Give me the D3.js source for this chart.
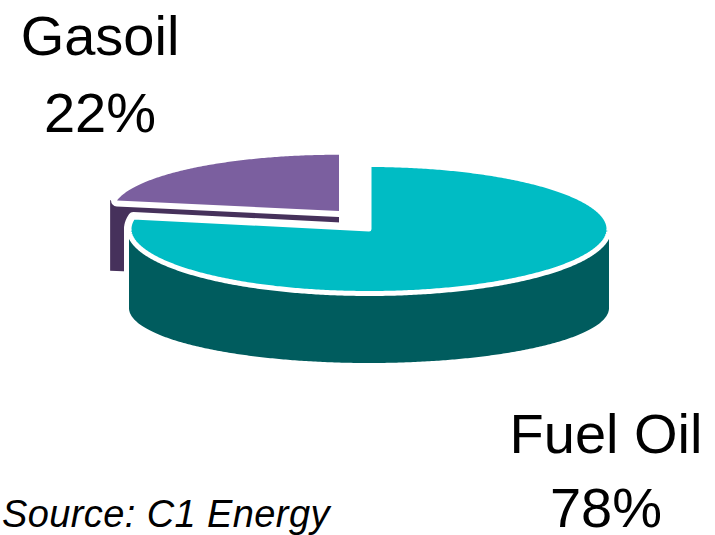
<!DOCTYPE html>
<html>
<head>
<meta charset="utf-8">
<script src="https://cdn.jsdelivr.net/npm/d3@7"></script>
<style>
  html, body { margin: 0; padding: 0; background: #fff; }
  svg { display: block; }
  text { font-family: "Liberation Sans", Arial, sans-serif; fill: #000; }
</style>
</head>
<body>
<svg id="chart" width="715" height="535"></svg>
<script>
// Product split
const products = ["Fuel Oil", "Gasoil"];
const shares = [78, 22];
const topColors = ["#00bcc4", "#7b5f9f"];
const sideColors = ["#005c5e", "#46315b"];
const sourceNote = "Source: C1 Energy";

const svg = d3.select("#chart");

// Tilted disc geometry: top ellipse (cx, cy, rx, ry) and a flatter bottom
// ellipse `depth` px lower with radius ryB – a slight perspective.
// The exploded slice sits further back and higher.
const disc = [
  { cx: 369, cy: 229, rx: 240, ry: 64.5, depth: 79, ryB: 55, inset: 0, halo: 10 },
  { cx: 339, cy: 211, rx: 233, ry: 58, depth: 69, ryB: 50, inset: 7, halo: 12 }
];
const labelPos = [
  { x: 606, y1: 453, y2: 527 },
  { x: 100, y1: 55, y2: 132 }
];

const pie = d3.pie().sort(null).value(d => d.value);
const arcs = pie(products.map((p, i) => ({ name: p, value: shares[i], i })));

// point on the top (bottom=false) or bottom ellipse at pie angle a
const proj = (g, a, r = 0, bottom = false) => {
  const ry = bottom ? g.ryB : g.ry;
  const cy = bottom ? g.cy + g.depth : g.cy;
  return [g.cx + (g.rx - r) * Math.sin(a), cy - (ry - r * ry / g.rx) * Math.cos(a)];
};
const line = d3.line();
const arcPts = (g, a0, a1, r = 0, bottom = false) => {
  const n = Math.max(2, Math.ceil((a1 - a0) / 0.01));
  return d3.range(n + 1).map(k => proj(g, a0 + (a1 - a0) * k / n, r, bottom));
};

function topPath(g, a0, a1, r) {
  return line([[g.cx, g.cy], ...arcPts(g, a0, a1, r)]) + "Z";
}
function sidePath(g, a0, a1) {
  const s = Math.max(a0, Math.PI / 2), e = Math.min(a1, 3 * Math.PI / 2);
  if (e <= s) return null;
  return line([...arcPts(g, s, e), ...arcPts(g, s, e, 0, true).reverse()]) + "Z";
}
function facePath(g, a) {
  return line([[g.cx, g.cy], proj(g, a), proj(g, a, 0, true), [g.cx, g.cy + g.depth]]) + "Z";
}

// Back slice first (Gasoil), then the front slice (Fuel Oil)
[1, 0].forEach(i => {
  const a = arcs[i];
  const g = disc[i];
  const grp = svg.append("g").attr("class", "slice");
  const faces = [];
  if (Math.sin(a.startAngle) < -1e-6) faces.push(facePath(g, a.startAngle));
  if (Math.sin(a.endAngle) > 1e-6) faces.push(facePath(g, a.endAngle));
  const side = sidePath(g, a.startAngle, a.endAngle);
  const top = topPath(g, a.startAngle, a.endAngle, g.inset);

  // radial cut faces, then a white halo separating the slice from what lies behind
  faces.forEach(p => grp.append("path").attr("d", p).attr("fill", sideColors[i]));
  [top, side].filter(Boolean).forEach(p =>
    grp.append("path").attr("d", p)
      .attr("fill", "#fff").attr("stroke", "#fff")
      .attr("stroke-width", g.halo).attr("stroke-linejoin", "round"));
  if (side) grp.append("path").attr("d", side).attr("fill", sideColors[i]);
  grp.append("path").attr("d", top)
    .attr("fill", topColors[i])
    .attr("stroke", i === 0 ? "#fff" : "none")
    .attr("stroke-width", 5)
    .attr("stroke-linejoin", "round");
});

// Category labels with percentages
arcs.forEach((a, i) => {
  const lp = labelPos[i];
  svg.append("text").attr("x", lp.x).attr("y", lp.y1)
    .attr("text-anchor", "middle").attr("font-size", 56)
    .text(a.data.name);
  svg.append("text").attr("x", lp.x).attr("y", lp.y2)
    .attr("text-anchor", "middle").attr("font-size", 56)
    .text(`${a.data.value}%`);
});

svg.append("text").attr("x", 2).attr("y", 527)
  .attr("font-size", 38).attr("font-style", "italic")
  .attr("letter-spacing", 0.4)
  .text(sourceNote);
</script>
</body>
</html>
